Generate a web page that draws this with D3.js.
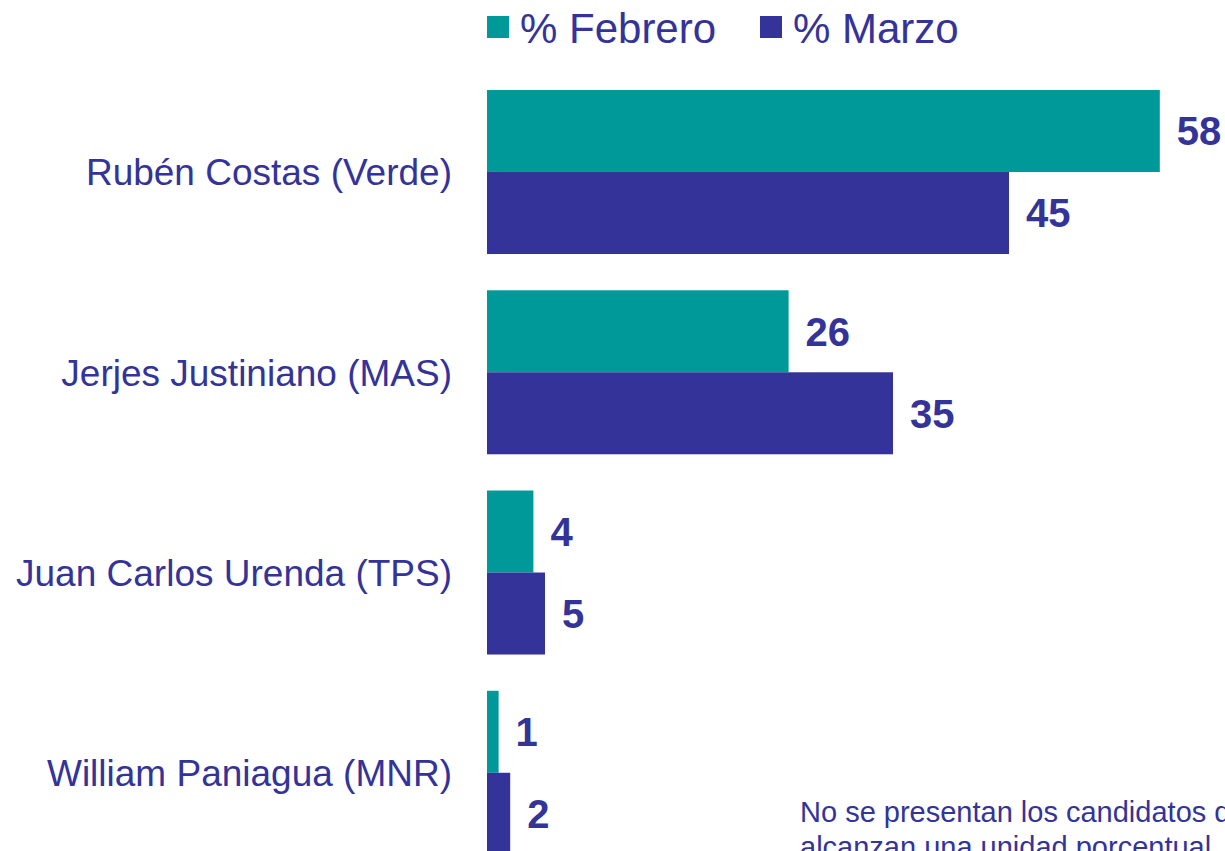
<!doctype html>
<html lang="es">
  <head>
    <meta charset="utf-8">
    <script src="https://cdnjs.cloudflare.com/ajax/libs/d3/7.8.5/d3.min.js"></script>
    <style>
      html, body { margin: 0; padding: 0; background: #fff; overflow: hidden; }
      text { font-family: "Liberation Sans", Arial, sans-serif; fill: #333399; }
    </style>
    <title>Intención de voto</title>
  </head>
  <body>
    <div id="my_dataviz"></div>
    <script>
      // data
      var candidates = ["Rubén Costas (Verde)", "Jerjes Justiniano (MAS)", "Juan Carlos Urenda (TPS)", "William Paniagua (MNR)"];
      var seriesNames = ["% Febrero", "% Marzo"];
      var febrero = [58, 26, 4, 1];
      var marzo = [45, 35, 5, 2];
      var note = ["No se presentan los candidatos que no", "alcanzan una unidad porcentual"];

      var colours = ["#009999", "#333399"];
      var width = 1225, height = 851;

      var svg = d3.select("#my_dataviz")
        .append("svg")
          .attr("width", width)
          .attr("height", height);

      // x: 0 sits at 487px, ~11.6px per point
      var x = d3.scaleLinear()
        .domain([0, 100])
        .range([487, 487 + 1160]);

      var y = d3.scaleBand()
        .domain(candidates)
        .range([71.8, 873])
        .paddingInner(0.181)
        .paddingOuter(0.091);

      var sub = d3.scaleBand()
        .domain(seriesNames)
        .range([0, y.bandwidth()]);

      var rows = candidates.map(function(c, i) {
        return { name: c, values: [febrero[i], marzo[i]] };
      });

      var groups = svg.selectAll("g.row")
        .data(rows)
        .enter()
        .append("g")
          .attr("class", "row")
          .attr("transform", function(d) { return "translate(0," + y(d.name) + ")"; });

      groups.selectAll("rect")
        .data(function(d) { return d.values.map(function(v, j) { return { s: seriesNames[j], v: v, j: j }; }); })
        .enter()
        .append("rect")
          .attr("x", x(0))
          .attr("y", function(d) { return sub(d.s); })
          .attr("width", function(d) { return x(d.v) - x(0); })
          .attr("height", sub.bandwidth())
          .attr("fill", function(d) { return colours[d.j]; });

      groups.selectAll("text.val")
        .data(function(d) { return d.values.map(function(v, j) { return { s: seriesNames[j], v: v }; }); })
        .enter()
        .append("text")
          .attr("class", "val")
          .attr("x", function(d) { return x(d.v) + 17; })
          .attr("y", function(d) { return sub(d.s) + sub.bandwidth() / 2; })
          .attr("dy", "0.36em")
          .style("font-size", "40px")
          .style("font-weight", "bold")
          .text(function(d) { return d.v; });

      // category labels
      groups.append("text")
        .attr("x", 452)
        .attr("y", y.bandwidth() / 2)
        .attr("dy", "0.36em")
        .attr("text-anchor", "end")
        .style("font-size", "37px")
        .text(function(d) { return d.name; });

      // legend
      var legendX = [487, 760];
      var legend = svg.selectAll("g.legend")
        .data(seriesNames)
        .enter()
        .append("g")
          .attr("class", "legend")
          .attr("transform", function(d, i) { return "translate(" + legendX[i] + ",0)"; });

      legend.append("rect")
        .attr("x", 0)
        .attr("y", 16)
        .attr("width", 22)
        .attr("height", 22)
        .attr("fill", function(d, i) { return colours[i]; });

      legend.append("text")
        .attr("x", 33)
        .attr("y", 43)
        .style("font-size", "42px")
        .text(function(d) { return d; });

      // footnote, runs off the right/bottom edge like the original
      svg.append("text")
        .attr("x", 800)
        .attr("y", 822)
        .style("font-size", "29px")
        .selectAll("tspan")
        .data(note)
        .enter()
        .append("tspan")
          .attr("x", 800)
          .attr("dy", function(d, i) { return i === 0 ? 0 : 35; })
          .text(function(d) { return d; });
    </script>
  </body>
</html>
